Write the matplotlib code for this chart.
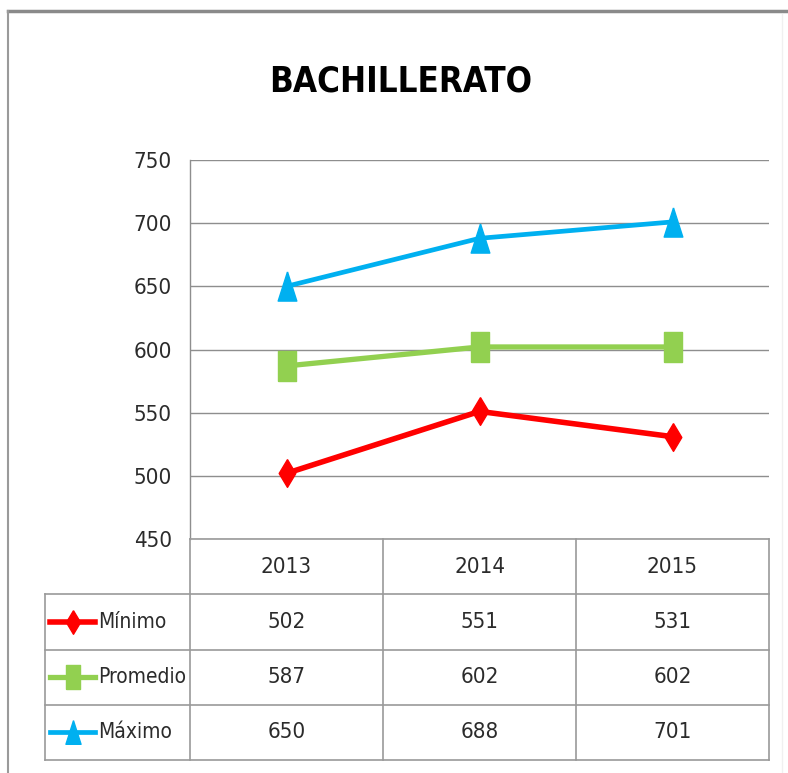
import matplotlib
matplotlib.use("Agg")
import matplotlib.pyplot as plt
from matplotlib.lines import Line2D
import numpy as np

years = ["2013", "2014", "2015"]
series_names = ["Mínimo", "Promedio", "Máximo"]
minimo = [502, 551, 531]
promedio = [587, 602, 602]
maximo = [650, 688, 701]
yticks = [450, 500, 550, 600, 650, 700, 750]
title = "BACHILLERATO"

series = [minimo, promedio, maximo]
colors = ["#FF0000", "#92D050", "#00B0F0"]
# tall (vertically stretched) marker shapes
diamond = [(0, 1), (0.6, 0), (0, -1), (-0.6, 0), (0, 1)]
square = [(-0.62, -1), (0.62, -1), (0.62, 1), (-0.62, 1), (-0.62, -1)]
triangle = [(0, 1), (0.64, -1), (-0.64, -1), (0, 1)]
markers = [diamond, square, triangle]
msizes = [20, 21, 21]
lws = [4.0, 3.8, 3.4]

plt.rcParams["font.family"] = ["DejaVu Sans"]
plt.rcParams["font.stretch"] = "condensed"
TXT = "#2B2B2B"
GRID = "#8E8E8E"
FS = 16

W, H = 788, 773
fig = plt.figure(figsize=(W / 100, H / 100), dpi=100)

def fx(px):
    return px / W

def fy(py):
    return 1 - py / H

# outer chart border (top + left)
fig.add_artist(Line2D([fx(8), fx(788)], [fy(11), fy(11)], color="#8A8A8A", lw=2.5))
fig.add_artist(Line2D([fx(8), fx(8)], [fy(11), fy(773)], color="#9A9A9A", lw=1.5))
fig.add_artist(Line2D([fx(782), fx(782)], [fy(14), fy(773)], color="#F0F0F0", lw=1.0))

# plot area
x0, x1 = 190, 769
ytop, ybot = 160, 539
ax = fig.add_axes([fx(x0), fy(ybot), fx(x1) - fx(x0), fy(ytop) - fy(ybot)])
x = np.arange(len(years))
for vals, c, m, ms, lw in zip(series, colors, markers, msizes, lws):
    ax.plot(x, vals, color=c, lw=lw, marker=m, markersize=ms,
            markerfacecolor=c, markeredgecolor=c, zorder=3)
ax.set_xlim(-0.5, len(years) - 0.5)
ax.set_ylim(yticks[0], yticks[-1])
ax.set_yticks(yticks)
ax.set_yticklabels([str(t) for t in yticks], fontsize=FS, color=TXT,
                   fontstretch="condensed")
ax.set_xticks([])
ax.tick_params(axis="y", length=0, pad=13)
ax.grid(axis="y", color=GRID, lw=1.0)
for s in ["top", "right", "bottom"]:
    ax.spines[s].set_visible(False)
ax.spines["left"].set_color(GRID)
ax.spines["left"].set_linewidth(1.0)
ax.set_axisbelow(True)

# title
fig.text(fx(401), fy(82), title, ha="center", va="center", fontsize=25,
         fontweight="bold", fontstretch="condensed", color="#000000")

# data table
tleft, tbot = 45, 760
colw = (x1 - x0) / len(years)
xl = -0.5 - (x0 - tleft) / colw
tax = fig.add_axes([fx(tleft), fy(tbot), fx(x1) - fx(tleft), fy(ybot) - fy(tbot)])
nrows = len(series) + 1
tax.set_xlim(xl, len(years) - 0.5)
tax.set_ylim(nrows, 0)
tax.axis("off")
LC = "#9A9A9A"
tax.plot([-0.5, len(years) - 0.5], [0, 0], color=LC, lw=1.2, clip_on=False)
for r in range(1, nrows + 1):
    tax.plot([xl, len(years) - 0.5], [r, r], color=LC, lw=1.2, clip_on=False)
for c in range(len(years) + 1):
    tax.plot([c - 0.5, c - 0.5], [0, nrows], color=LC, lw=1.2, clip_on=False)
tax.plot([xl, xl], [1, nrows], color=LC, lw=1.2, clip_on=False)

for i, yr in enumerate(years):
    tax.text(i, 0.5, yr, ha="center", va="center", fontsize=FS, color=TXT,
             fontstretch="condensed")
key_a = xl + 5 / colw
key_b = xl + 50 / colw
lab_x = xl + 53 / colw
for r, (name, vals, c, m, lw) in enumerate(zip(series_names, series, colors, markers, lws), start=1):
    tax.plot([key_a, key_b], [r + 0.5, r + 0.5], color=c, lw=lw, clip_on=False)
    tax.plot([(key_a + key_b) / 2], [r + 0.5], marker=m, markersize=17, color=c,
             clip_on=False)
    tax.text(lab_x, r + 0.5, name, ha="left", va="center", fontsize=15, color=TXT,
             fontstretch="condensed")
    for i, v in enumerate(vals):
        tax.text(i, r + 0.5, str(v), ha="center", va="center", fontsize=FS,
                 color=TXT, fontstretch="condensed")

fig.savefig("out.png", dpi=100, facecolor="white")
